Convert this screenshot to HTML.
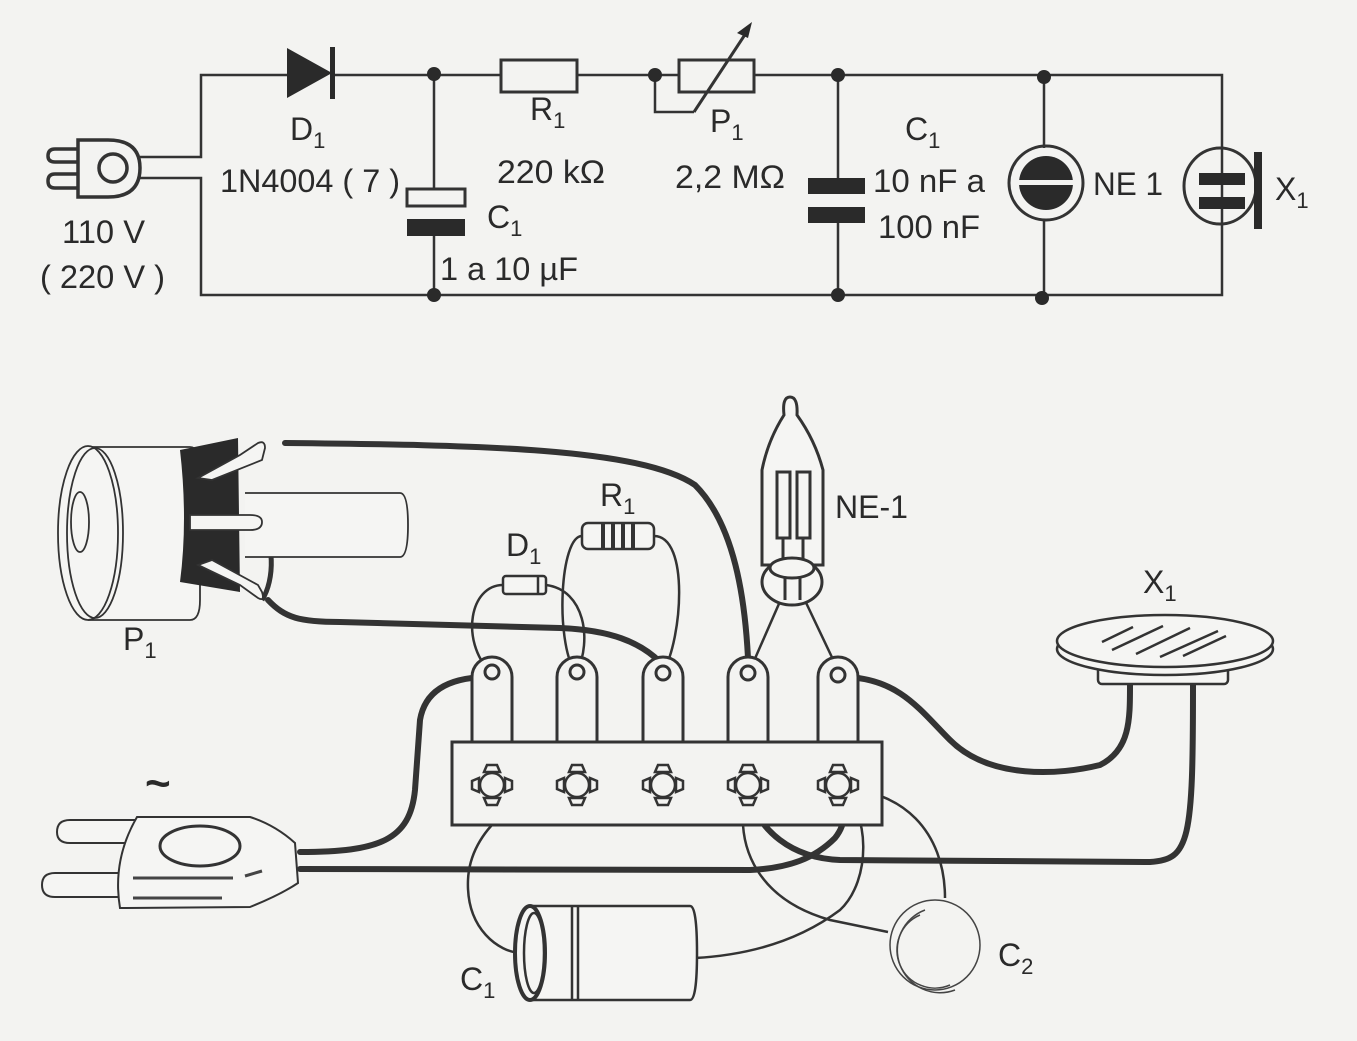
<!DOCTYPE html>
<html><head><meta charset="utf-8"><style>
html,body{margin:0;padding:0;background:#f3f3f1;}
svg{display:block;}
text{font-family:"Liberation Sans",sans-serif;fill:#2a2a2a;}
</style></head><body>
<svg width="1357" height="1041" viewBox="0 0 1357 1041" xmlns="http://www.w3.org/2000/svg">
<rect width="1357" height="1041" fill="#f3f3f1"/>
<!-- ========== SCHEMATIC ========== -->
<g stroke="#333" stroke-width="2.5" fill="none">
  <polyline points="140,157 201,157 201,75 287,75"/>
  <polyline points="140,178 201,178 201,295 1222,295 1222,75 754,75"/>
  <line x1="332" y1="75" x2="501" y2="75"/>
  <line x1="577" y1="75" x2="679" y2="75"/>
  <polyline points="655,75 655,112 694,112"/>
  <line x1="434" y1="75" x2="434" y2="188"/>
  <line x1="434" y1="236" x2="434" y2="295"/>
  <line x1="838" y1="75" x2="838" y2="178"/>
  <line x1="838" y1="223" x2="838" y2="295"/>
  <line x1="1044" y1="75" x2="1044" y2="148"/>
  <line x1="1044" y1="220" x2="1044" y2="298"/>
  <rect x="501" y="60" width="76" height="32" stroke-width="3"/>
  <rect x="679" y="60" width="75" height="32" stroke-width="3"/>
  <line x1="694" y1="112" x2="748" y2="30" stroke-width="3"/>
  <rect x="407" y="189" width="58" height="17" stroke-width="3"/>
  <circle cx="1046" cy="183" r="37" stroke-width="3"/>
  <ellipse cx="1220" cy="186" rx="36" ry="38" stroke-width="3"/>
  <path d="M78 140 L108 140 Q140 140 140 168 Q140 197 108 197 L78 197 Z" stroke-width="3.5"/>
  <circle cx="113" cy="168" r="14" stroke-width="3.5"/>
  <path d="M78 149 L55 149 Q48 149 48 156 Q48 162 55 162 L78 162" stroke-width="3.5"/>
  <path d="M78 174 L55 174 Q48 174 48 181 Q48 188 55 188 L78 188" stroke-width="3.5"/>
</g>
<g fill="#2a2a2a">
  <polygon points="287,48 332,73 287,98"/>
  <rect x="330" y="47" width="5" height="52"/>
  <polygon points="752,22 737,33 748,38"/>
  <rect x="407" y="219" width="58" height="17"/>
  <rect x="808" y="178" width="57" height="16"/>
  <rect x="808" y="207" width="57" height="16"/>
  <circle cx="1046" cy="183" r="27"/>
  <rect x="1199" y="173" width="46" height="12"/>
  <rect x="1199" y="197" width="46" height="12"/>
  <rect x="1254" y="152" width="8" height="77"/>
  <circle cx="434" cy="74" r="7"/><circle cx="434" cy="295" r="7"/>
  <circle cx="655" cy="75" r="7"/><circle cx="838" cy="75" r="7"/>
  <circle cx="838" cy="295" r="7"/>
  <circle cx="1044" cy="77" r="7"/><circle cx="1042" cy="298" r="7"/>
</g>
<rect x="1016" y="180" width="60" height="5" fill="#f3f3f1"/>
<g font-size="32">
  <text x="290" y="140">D<tspan font-size="22" dy="8">1</tspan></text>
  <text x="220" y="192" textLength="180" lengthAdjust="spacingAndGlyphs">1N4004 ( 7 )</text>
  <text x="62" y="243" textLength="83" lengthAdjust="spacingAndGlyphs">110 V</text>
  <text x="40" y="288" textLength="125" lengthAdjust="spacingAndGlyphs">( 220 V )</text>
  <text x="487" y="228">C<tspan font-size="22" dy="8">1</tspan></text>
  <text x="440" y="280" textLength="138" lengthAdjust="spacingAndGlyphs">1 a 10 µF</text>
  <text x="530" y="120">R<tspan font-size="22" dy="8">1</tspan></text>
  <text x="497" y="183" textLength="108" lengthAdjust="spacingAndGlyphs">220 kΩ</text>
  <text x="710" y="132">P<tspan font-size="22" dy="8">1</tspan></text>
  <text x="675" y="188" textLength="110" lengthAdjust="spacingAndGlyphs">2,2 MΩ</text>
  <text x="905" y="140">C<tspan font-size="22" dy="8">1</tspan></text>
  <text x="873" y="192" textLength="112" lengthAdjust="spacingAndGlyphs">10 nF a</text>
  <text x="878" y="238" textLength="102" lengthAdjust="spacingAndGlyphs">100 nF</text>
  <text x="1093" y="195" textLength="70" lengthAdjust="spacingAndGlyphs">NE 1</text>
  <text x="1275" y="200">X<tspan font-size="22" dy="8">1</tspan></text>
</g>

<!-- ========== PICTORIAL ========== -->
<g stroke="#333" stroke-width="6" fill="none" stroke-linecap="round">
  <path d="M285 443 C 480 445 640 448 695 485 C 735 525 745 600 748 658"/>
  <path d="M268 600 C 285 618 300 622 340 622 L 560 628 C 610 630 640 642 660 662"/>
  <path d="M300 852 C 380 852 410 840 415 790 L 420 720 C 425 690 450 678 485 677"/>
  <path d="M300 869 L 750 870 C 790 868 815 858 835 838 C 848 822 845 805 840 792"/>
  <path d="M748 795 C 760 830 790 858 840 860 L 1150 862 C 1190 860 1193 840 1193 685"/>
  <path d="M848 677 C 900 680 920 710 950 740 C 990 780 1060 775 1100 765 C 1130 750 1130 720 1130 685"/>
</g>
<g stroke="#333" stroke-width="2.5" fill="none">
  <path d="M503 585 C 470 585 460 640 490 672"/>
  <path d="M546 585 C 585 590 592 640 577 672"/>
  <path d="M582 536 C 560 536 555 640 575 672"/>
  <path d="M654 536 C 690 536 682 640 663 672"/>
  <path d="M785 590 L 750 670"/>
  <path d="M800 590 L 838 670"/>
  <path d="M575 785 C 520 790 470 830 468 880 C 466 930 500 952 520 953"/>
  <path d="M745 795 C 735 850 760 900 830 920 L 888 932"/>
  <path d="M840 790 C 870 810 872 880 840 910 C 800 940 750 955 695 958"/>
  <path d="M845 790 C 900 790 945 830 945 898"/>
  <path d="M258 520 C 275 540 275 580 262 600" stroke-width="5"/>
</g>
<g stroke="#333" stroke-width="3" fill="#f3f3f1">
  <path d="M472 742 L472 677 A20 20 0 0 1 512 677 L512 742"/>
  <path d="M557 742 L557 677 A20 20 0 0 1 597 677 L597 742"/>
  <path d="M643 742 L643 677 A20 20 0 0 1 683 677 L683 742"/>
  <path d="M728 742 L728 677 A20 20 0 0 1 768 677 L768 742"/>
  <path d="M818 742 L818 677 A20 20 0 0 1 858 677 L858 742"/>
  <rect x="452" y="742" width="430" height="83"/>
  <circle cx="492" cy="672" r="7"/><circle cx="577" cy="672" r="7"/>
  <circle cx="663" cy="673" r="7"/><circle cx="748" cy="673" r="7"/>
  <circle cx="838" cy="675" r="7"/>
</g>
<g stroke="#333" stroke-width="2.5" fill="none">
  <g transform="translate(492,785)"><circle r="12"/><path d="M-8 -13 h16 l-3 -7 h-10 z M-8 13 h16 l-3 7 h-10 z M-13 -7 v14 l-7 -3 v-8 z M13 -7 v14 l7 -3 v-8 z"/></g>
  <g transform="translate(577,785)"><circle r="12"/><path d="M-8 -13 h16 l-3 -7 h-10 z M-8 13 h16 l-3 7 h-10 z M-13 -7 v14 l-7 -3 v-8 z M13 -7 v14 l7 -3 v-8 z"/></g>
  <g transform="translate(663,785)"><circle r="12"/><path d="M-8 -13 h16 l-3 -7 h-10 z M-8 13 h16 l-3 7 h-10 z M-13 -7 v14 l-7 -3 v-8 z M13 -7 v14 l7 -3 v-8 z"/></g>
  <g transform="translate(748,785)"><circle r="12"/><path d="M-8 -13 h16 l-3 -7 h-10 z M-8 13 h16 l-3 7 h-10 z M-13 -7 v14 l-7 -3 v-8 z M13 -7 v14 l7 -3 v-8 z"/></g>
  <g transform="translate(838,785)"><circle r="12"/><path d="M-8 -13 h16 l-3 -7 h-10 z M-8 13 h16 l-3 7 h-10 z M-13 -7 v14 l-7 -3 v-8 z M13 -7 v14 l7 -3 v-8 z"/></g>
</g>
<g stroke="#333" stroke-width="1.8" fill="#f5f5f3">
  <path d="M88 447 L190 447 Q200 447 200 470 L200 600 Q200 620 190 620 L88 620"/>
  <ellipse cx="88" cy="533" rx="30" ry="87"/>
  <ellipse cx="95" cy="533" rx="28" ry="85" fill="none"/>
  <ellipse cx="80" cy="522" rx="9" ry="30"/>
  <path d="M245 493 L400 493 Q408 493 408 525 Q408 557 400 557 L245 557"/>
</g>
<path d="M180 450 L238 438 L240 592 L180 582 Q188 520 180 450 Z" fill="#2a2a2a"/>
<g stroke="#333" stroke-width="1.8" fill="#f5f5f3">
  <path d="M198 478 L240 455 L258 443 Q265 440 265 448 L262 460 L212 480 Z"/>
  <path d="M190 515 L250 515 Q262 515 262 522 Q262 530 250 530 L190 530 Z"/>
  <path d="M198 565 L240 585 L258 598 Q265 602 262 592 L258 585 L212 560 Z"/>
</g>
<g stroke="#333" stroke-width="2.5" fill="#f5f5f3">
  <rect x="503" y="576" width="43" height="18" rx="3"/>
  <line x1="538" y1="576" x2="538" y2="594"/>
  <rect x="582" y="523" width="72" height="26" rx="6"/>
  <line x1="603" y1="524" x2="603" y2="548" stroke-width="4"/>
  <line x1="613" y1="524" x2="613" y2="548" stroke-width="4"/>
  <line x1="623" y1="524" x2="623" y2="548" stroke-width="4"/>
  <line x1="633" y1="524" x2="633" y2="548" stroke-width="4"/>
</g>
<g stroke="#333" stroke-width="3" fill="#f5f5f3">
  <path d="M784 415 Q782 397 790 397 Q798 397 797 415 Q815 440 823 470 L823 565 L762 565 L762 470 Q768 440 784 415 Z"/>
  <ellipse cx="792" cy="582" rx="30" ry="23"/>
  <ellipse cx="792" cy="568" rx="22" ry="10"/>
  <rect x="777" y="472" width="13" height="66"/>
  <rect x="797" y="472" width="13" height="66"/>
  <line x1="783" y1="538" x2="783" y2="560"/><line x1="803" y1="538" x2="803" y2="560"/>
  <line x1="785" y1="578" x2="785" y2="600"/><line x1="800" y1="578" x2="800" y2="600"/>
</g>
<g stroke="#333" stroke-width="2.5" fill="#f5f5f3">
  <rect x="1098" y="660" width="130" height="24" rx="4"/>
  <ellipse cx="1165" cy="649" rx="108" ry="26"/>
  <ellipse cx="1165" cy="641" rx="108" ry="26"/>
  <line x1="1102" y1="642" x2="1133" y2="627"/>
  <line x1="1112" y1="650" x2="1163" y2="626"/>
  <line x1="1136" y1="654" x2="1190" y2="628"/>
  <line x1="1160" y1="657" x2="1218" y2="631"/>
  <line x1="1183" y1="656" x2="1226" y2="636"/>
</g>
<g stroke="#333" stroke-width="2.5" fill="#f5f5f3">
  <path d="M530 906 L690 906 Q697 906 697 953 Q697 1000 690 1000 L530 1000"/>
  <line x1="572" y1="906" x2="572" y2="1000"/>
  <line x1="578" y1="906" x2="578" y2="1000"/>
  <ellipse cx="530" cy="953" rx="15" ry="47" stroke-width="4"/>
  <ellipse cx="534" cy="953" rx="10" ry="40"/>
</g>
<g stroke="#444" stroke-width="1.5" fill="none">
  <circle cx="935" cy="945" r="45"/>
  <path d="M920 915 A32 32 0 0 0 950 985"/>
  <path d="M925 910 A38 38 0 0 0 955 990"/>
</g>
<g stroke="#333" stroke-width="2" fill="#f5f5f3">
  <path d="M140 820 L70 820 Q57 820 57 832 Q57 843 70 843 L140 843"/>
  <path d="M130 873 L55 873 Q42 873 42 885 Q42 897 55 897 L130 897"/>
  <path d="M137 817 L250 817 Q275 825 295 843 L298 883 Q280 895 250 907 L120 908 Q112 860 137 817 Z"/>
  <ellipse cx="200" cy="846" rx="40" ry="20" stroke-width="3"/>
</g>
<g stroke="#444" stroke-width="3">
  <line x1="133" y1="878" x2="233" y2="878"/>
  <line x1="133" y1="898" x2="222" y2="898"/>
  <line x1="245" y1="876" x2="262" y2="871"/>
</g>
<text x="145" y="798" font-size="44" font-weight="bold">~</text>
<g font-size="32">
  <text x="123" y="650">P<tspan font-size="22" dy="8">1</tspan></text>
  <text x="506" y="556">D<tspan font-size="22" dy="8">1</tspan></text>
  <text x="600" y="506">R<tspan font-size="22" dy="8">1</tspan></text>
  <text x="835" y="518" textLength="73" lengthAdjust="spacingAndGlyphs">NE-1</text>
  <text x="1143" y="593">X<tspan font-size="22" dy="8">1</tspan></text>
  <text x="998" y="966">C<tspan font-size="22" dy="8">2</tspan></text>
  <text x="460" y="990">C<tspan font-size="22" dy="8">1</tspan></text>
</g>
</svg>
</body></html>
